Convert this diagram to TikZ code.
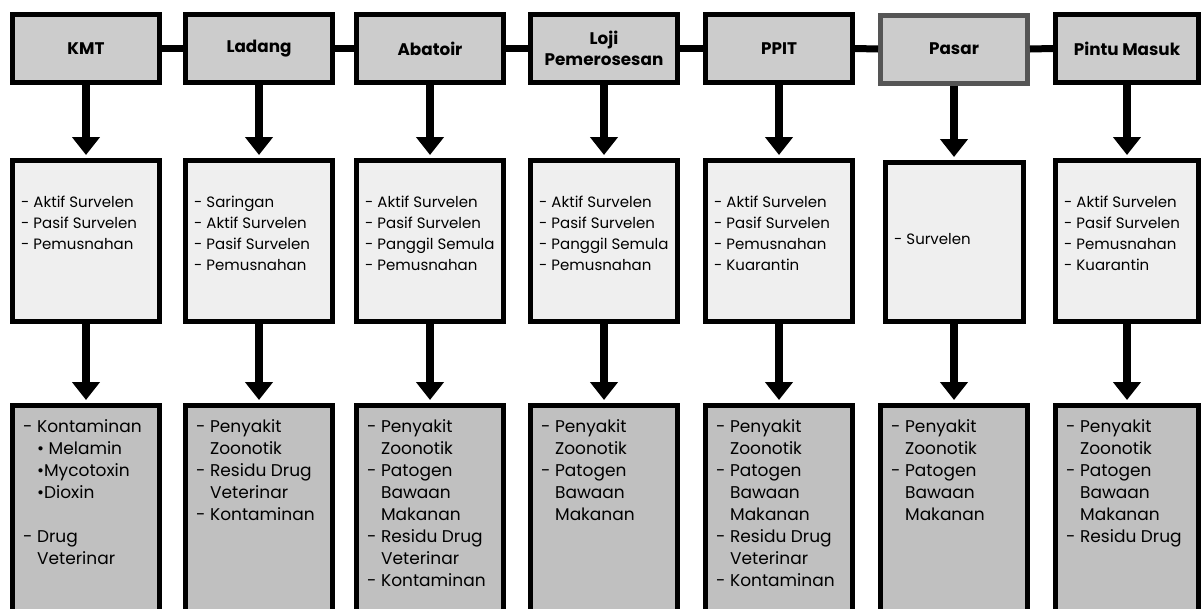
\documentclass[tikz,border=0pt]{standalone}
\usepackage{fontspec}
\setmainfont{Poppins}
\usetikzlibrary{arrows.meta}

\definecolor{hdrgray}{RGB}{204,204,204}
\definecolor{midgray}{RGB}{239,239,239}
\definecolor{botgray}{RGB}{192,192,192}
\definecolor{pasarline}{RGB}{85,85,85}
\newcommand{\subind}{\hphantom{-~}}

\begin{document}
\begin{tikzpicture}[x=1pt,y=-1pt,
	hdrbox/.style={draw=black, line width=5pt, fill=hdrgray, minimum width=147pt, minimum height=68pt,
		align=center, inner sep=0pt, font=\fontsize{16.8}{21}\selectfont\bfseries},
	midbox/.style={draw=black, line width=5pt, fill=midgray, minimum width=147pt, minimum height=161pt},
	botbox/.style={draw=black, line width=5pt, fill=botgray, minimum width=147pt, minimum height=212pt},
	midtxt/.style={anchor=north west, inner sep=0pt, align=left, font=\fontsize{15}{21}\selectfont},
	bottxt/.style={anchor=north west, inner sep=0pt, align=left, font=\fontsize{17}{22}\selectfont},
	hlink/.style={line width=7pt},
	downarrow/.style={line width=8pt, -{Triangle[width=27pt,length=18pt]}, shorten >=3pt}
	]
	% Page frame (fixes the margins)
	\useasboundingbox (0,0) rectangle (1201,608);
	\clip (0,0) rectangle (1201,608);
	
	% Top row: the stages
	\node[hdrbox] (h1) at (86,48.5) {KMT};
	\node[hdrbox] (h2) at (259,48.5) {Ladang};
	\node[hdrbox] (h3) at (430,48.5) {Abatoir};
	\node[hdrbox] (h4) at (604,48.5) {Loji\\Pemerosesan};
	\node[hdrbox] (h5) at (779,48.5) {PPIT};
	\node[hdrbox, draw=pasarline] (h6) at (954,49) {Pasar};
	\node[hdrbox, minimum width=143pt] (h7) at (1127,48.5) {Pintu Masuk};
	
	% Links between the stages
	\draw[hlink] (h1.east) -- (h2.west);
	\draw[hlink] (h2.east) -- (h3.west);
	\draw[hlink] (h3.east) -- (h4.west);
	\draw[hlink] (h4.east) -- (h5.west);
	\draw[hlink] (h5.east) -- (h6.west);
	\draw[hlink] (h6.east) -- (h7.west);
	
	% Middle row: the actions
	\node[midbox] (m1) at (86,241) {};
	\node[midbox] (m2) at (259,241) {};
	\node[midbox] (m3) at (430,241) {};
	\node[midbox] (m4) at (604,241) {};
	\node[midbox] (m5) at (779,241) {};
	\node[midbox, minimum width=138pt, minimum height=159pt] (m6) at (954,242) {};
	\node[midbox, minimum width=143pt] (m7) at (1127,241) {};
	
	\node[midtxt] (m1t) at (21,196) {- Aktif Survelen\\- Pasif Survelen\\- Pemusnahan};
	\node[midtxt] (m2t) at (194,196) {- Saringan\\- Aktif Survelen\\- Pasif Survelen\\- Pemusnahan};
	\node[midtxt] (m3t) at (365,196) {- Aktif Survelen\\- Pasif Survelen\\- Panggil Semula\\- Pemusnahan};
	\node[midtxt] (m4t) at (539,196) {- Aktif Survelen\\- Pasif Survelen\\- Panggil Semula\\- Pemusnahan};
	\node[midtxt] (m5t) at (714,196) {- Aktif Survelen\\- Pasif Survelen\\- Pemusnahan\\- Kuarantin};
	\node[midtxt, anchor=base west] (m6t) at (894,244) {- Survelen};
	\node[midtxt] (m7t) at (1064,196) {- Aktif Survelen\\- Pasif Survelen\\- Pemusnahan\\- Kuarantin};
	
	% Bottom row: the hazards
	\node[botbox] (b1) at (86,511.5) {};
	\node[botbox] (b2) at (259,511.5) {};
	\node[botbox] (b3) at (430,511.5) {};
	\node[botbox] (b4) at (604,511.5) {};
	\node[botbox] (b5) at (779,511.5) {};
	\node[botbox] (b6) at (954,511.5) {};
	\node[botbox, minimum width=143pt] (b7) at (1127,511.5) {};
	
	\node[bottxt] (b1t) at (23,419.5) {- Kontaminan\\\subind\textbullet\ Melamin\\\subind\textbullet Mycotoxin\\\subind\textbullet Dioxin\\[22pt]- Drug\\\subind Veterinar};
	\node[bottxt] (b2t) at (196,419.5) {- Penyakit\\\subind Zoonotik\\- Residu Drug\\\subind Veterinar\\- Kontaminan};
	\node[bottxt] (b3t) at (367,419.5) {- Penyakit\\\subind Zoonotik\\- Patogen\\\subind Bawaan\\\subind Makanan\\- Residu Drug\\\subind Veterinar\\- Kontaminan};
	\node[bottxt] (b4t) at (541,419.5) {- Penyakit\\\subind Zoonotik\\- Patogen\\\subind Bawaan\\\subind Makanan};
	\node[bottxt] (b5t) at (716,419.5) {- Penyakit\\\subind Zoonotik\\- Patogen\\\subind Bawaan\\\subind Makanan\\- Residu Drug\\\subind Veterinar\\- Kontaminan};
	\node[bottxt] (b6t) at (891,419.5) {- Penyakit\\\subind Zoonotik\\- Patogen\\\subind Bawaan\\\subind Makanan};
	\node[bottxt] (b7t) at (1066,419.5) {- Penyakit\\\subind Zoonotik\\- Patogen\\\subind Bawaan\\\subind Makanan\\- Residu Drug};
	
	% Arrows down each column
	\draw[downarrow] (h1.south) -- (m1.north);
	\draw[downarrow] (h2.south) -- (m2.north);
	\draw[downarrow] (h3.south) -- (m3.north);
	\draw[downarrow] (h4.south) -- (m4.north);
	\draw[downarrow] (h5.south) -- (m5.north);
	\draw[downarrow] (h6.south) -- (m6.north);
	\draw[downarrow] (h7.south) -- (m7.north);
	
	\draw[downarrow] (m1.south) -- (b1.north);
	\draw[downarrow] (m2.south) -- (b2.north);
	\draw[downarrow] (m3.south) -- (b3.north);
	\draw[downarrow] (m4.south) -- (b4.north);
	\draw[downarrow] (m5.south) -- (b5.north);
	\draw[downarrow] (m6.south) -- (b6.north);
	\draw[downarrow] (m7.south) -- (b7.north);
\end{tikzpicture}
\end{document}
